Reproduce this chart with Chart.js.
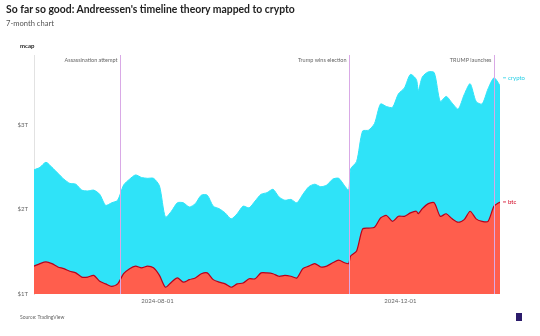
<!DOCTYPE html>
<html>
<head>
<meta charset="utf-8">
<script src="https://cdn.jsdelivr.net/npm/chart.js@4.4.1/dist/chart.umd.min.js"></script>
<style>
    body { margin: 0; background: #fff; font-family: Lato, "Noto Sans", sans-serif; }
    #wrap { position: relative; width: 540px; height: 336px; overflow: hidden; }
    #chart { position: absolute; left: 0; top: 0; }
    .title { position: absolute; left: 6px; top: 3px; font-size: 10.4px; font-weight: 700; color: #222; }
    .subtitle { position: absolute; left: 6px; top: 18px; font-size: 7.6px; color: #555; }
    .unit { position: absolute; left: 20px; top: 42px; font-size: 6px; font-weight: 700; color: #222; }
    .source { position: absolute; left: 20px; top: 314px; font-size: 5px; color: #666; }
    .logo { position: absolute; left: 516px; top: 313px; width: 6px; height: 8px; background: #2b1b6b; }
</style>
</head>
<body>
<div id="wrap">
    <canvas id="chart" width="540" height="336"></canvas>
    <div class="title">So far so good: Andreessen's timeline theory mapped to crypto</div>
    <div class="subtitle">7-month chart</div>
    <div class="unit">mcap</div>
    <div class="source">Source: TradingView</div>
    <div class="logo"></div>
</div>
<script>
// dates of the samples (roughly every 3 days)
const dates = [
    '2024-05-31', '2024-06-03', '2024-06-06', '2024-06-09', '2024-06-12', '2024-06-15', '2024-06-18',
    '2024-06-21', '2024-06-24', '2024-06-27', '2024-06-30', '2024-07-03', '2024-07-06', '2024-07-09',
    '2024-07-12', '2024-07-15', '2024-07-18', '2024-07-21', '2024-07-24', '2024-07-27', '2024-07-30',
    '2024-08-02', '2024-08-05', '2024-08-08', '2024-08-11', '2024-08-14', '2024-08-17', '2024-08-20',
    '2024-08-23', '2024-08-26', '2024-08-29', '2024-09-01', '2024-09-04', '2024-09-07', '2024-09-10',
    '2024-09-13', '2024-09-16', '2024-09-19', '2024-09-22', '2024-09-25', '2024-09-28', '2024-10-01',
    '2024-10-04', '2024-10-07', '2024-10-10', '2024-10-13', '2024-10-16', '2024-10-19', '2024-10-22',
    '2024-10-25', '2024-10-28', '2024-10-31', '2024-11-03', '2024-11-05', '2024-11-06', '2024-11-09',
    '2024-11-12', '2024-11-15', '2024-11-18', '2024-11-21', '2024-11-24', '2024-11-27', '2024-11-30',
    '2024-12-03', '2024-12-06', '2024-12-09', '2024-12-10', '2024-12-12', '2024-12-15', '2024-12-18',
    '2024-12-21', '2024-12-24', '2024-12-27', '2024-12-30', '2025-01-02', '2025-01-05', '2025-01-08',
    '2025-01-11', '2025-01-14', '2025-01-17', '2025-01-20'
];

// total crypto market cap, $T
const cryptoCap = [
    2.47, 2.50, 2.56, 2.50, 2.43, 2.36, 2.31,
    2.30, 2.23, 2.22, 2.23, 2.18, 2.05, 2.08,
    2.11, 2.29, 2.36, 2.41, 2.38, 2.37, 2.37,
    2.28, 1.91, 1.98, 2.08, 2.08, 2.03, 2.07,
    2.17, 2.17, 2.04, 2.01, 1.96, 1.89, 1.95,
    2.04, 2.02, 2.10, 2.18, 2.20, 2.24, 2.15,
    2.11, 2.12, 2.08, 2.18, 2.27, 2.30, 2.27,
    2.29, 2.36, 2.37, 2.28, 2.23, 2.48, 2.57,
    2.93, 2.94, 3.02, 3.25, 3.22, 3.21, 3.37,
    3.44, 3.60, 3.54, 3.41, 3.57, 3.63, 3.62,
    3.28, 3.34, 3.26, 3.19, 3.36, 3.49, 3.28,
    3.25, 3.43, 3.56, 3.47
];

// bitcoin market cap, $T
const btcCap = [
    1.33, 1.36, 1.38, 1.36, 1.32, 1.30, 1.27,
    1.25, 1.20, 1.20, 1.22, 1.15, 1.12, 1.09,
    1.12, 1.24, 1.30, 1.33, 1.31, 1.33, 1.31,
    1.22, 1.08, 1.14, 1.19, 1.14, 1.17, 1.19,
    1.24, 1.25, 1.17, 1.14, 1.12, 1.08, 1.12,
    1.13, 1.18, 1.18, 1.25, 1.25, 1.24, 1.21,
    1.22, 1.21, 1.19, 1.30, 1.33, 1.36, 1.32,
    1.33, 1.37, 1.40, 1.37, 1.36, 1.45, 1.51,
    1.77, 1.78, 1.79, 1.90, 1.93, 1.86, 1.92,
    1.92, 1.96, 1.98, 1.95, 2.01, 2.07, 2.08,
    1.92, 1.95, 1.89, 1.85, 1.88, 1.98, 1.89,
    1.86, 1.86, 2.04, 2.09
];

const xTicks = ['2024-08-01', '2024-12-01'];
const yTicks = [1, 2, 3];

const eventDates = ['2024-07-13', '2024-11-05', '2025-01-17'];
const eventLabels = ['Assassination attempt', 'Trump wins election', 'TRUMP launches'];

const toTime = s => Date.parse(s + 'T00:00:00Z');

const cryptoColor = '#2fe3f8';
const btcFill = '#ff5e4d';
const btcLine = '#b8001c';
const smallFont = { family: 'Lato, "Noto Sans", sans-serif', size: 6 };

const eventLines = {
    id: 'eventLines',
    afterDatasetsDraw(chart) {
        const { ctx, chartArea, scales } = chart;
        ctx.save();
        eventDates.forEach((d, i) => {
            const x = Math.round(scales.x.getPixelForValue(toTime(d))) + 0.5;
            ctx.strokeStyle = '#d9a9e6';
            ctx.lineWidth = 1;
            ctx.beginPath();
            ctx.moveTo(x, chartArea.top);
            ctx.lineTo(x, chartArea.bottom);
            ctx.stroke();
            ctx.fillStyle = '#666';
            ctx.font = '5.5px Lato, "Noto Sans", sans-serif';
            ctx.textAlign = 'right';
            ctx.textBaseline = 'middle';
            ctx.fillText(eventLabels[i], x - 3, chartArea.top + 5);
        });
        ctx.restore();
    }
};

const seriesLabels = {
    id: 'seriesLabels',
    afterDatasetsDraw(chart) {
        const { ctx, chartArea, scales } = chart;
        const items = [
            { text: 'crypto', values: cryptoCap, color: '#27cfe6' },
            { text: 'btc', values: btcCap, color: '#d2001f' }
        ];
        ctx.save();
        ctx.font = '6px Lato, "Noto Sans", sans-serif';
        ctx.textBaseline = 'middle';
        ctx.textAlign = 'left';
        items.forEach(it => {
            const v = Math.max(...it.values.slice(-2));
            const y = scales.y.getPixelForValue(v);
            ctx.strokeStyle = it.color;
            ctx.lineWidth = 0.8;
            ctx.beginPath();
            ctx.moveTo(chartArea.right + 3, y);
            ctx.lineTo(chartArea.right + 6, y);
            ctx.stroke();
            ctx.fillStyle = it.color;
            ctx.fillText(it.text, chartArea.right + 8, y);
        });
        ctx.restore();
    }
};

const ctx = document.getElementById('chart').getContext('2d');
new Chart(ctx, {
    type: 'line',
    data: {
        datasets: [{
            label: 'btc',
            data: dates.map((d, i) => ({ x: toTime(d), y: btcCap[i] })),
            borderColor: btcLine,
            backgroundColor: btcFill,
            borderWidth: 1.2,
            fill: 'start',
            pointRadius: 0,
            tension: 0.25
        }, {
            label: 'crypto',
            data: dates.map((d, i) => ({ x: toTime(d), y: cryptoCap[i] })),
            borderColor: cryptoColor,
            backgroundColor: cryptoColor,
            borderWidth: 1,
            fill: 'start',
            pointRadius: 0,
            tension: 0.25
        }]
    },
    options: {
        responsive: false,
        animation: false,
        layout: { padding: { top: 55, right: 40, left: 0, bottom: 0 } },
        plugins: {
            legend: { display: false },
            tooltip: { enabled: false }
        },
        scales: {
            x: {
                type: 'linear',
                min: toTime('2024-05-31'),
                max: toTime('2025-01-20'),
                afterBuildTicks: scale => { scale.ticks = xTicks.map(t => ({ value: toTime(t) })); },
                afterFit: scale => { scale.height = 42; },
                ticks: {
                    autoSkip: false,
                    maxRotation: 0,
                    padding: 3,
                    color: '#666',
                    font: smallFont,
                    callback: v => new Date(v).toISOString().slice(0, 10)
                },
                grid: { display: false, drawTicks: false },
                border: { display: false }
            },
            y: {
                min: 1,
                max: 3.83,
                afterBuildTicks: scale => { scale.ticks = yTicks.map(v => ({ value: v })); },
                afterFit: scale => { scale.width = 34; },
                ticks: {
                    padding: 6,
                    color: '#666',
                    font: smallFont,
                    callback: v => '$' + v + 'T'
                },
                grid: { display: false, drawTicks: false },
                border: { display: true, color: '#e2e2e2', width: 1 }
            }
        }
    },
    plugins: [eventLines, seriesLabels]
});
</script>
</body>
</html>
